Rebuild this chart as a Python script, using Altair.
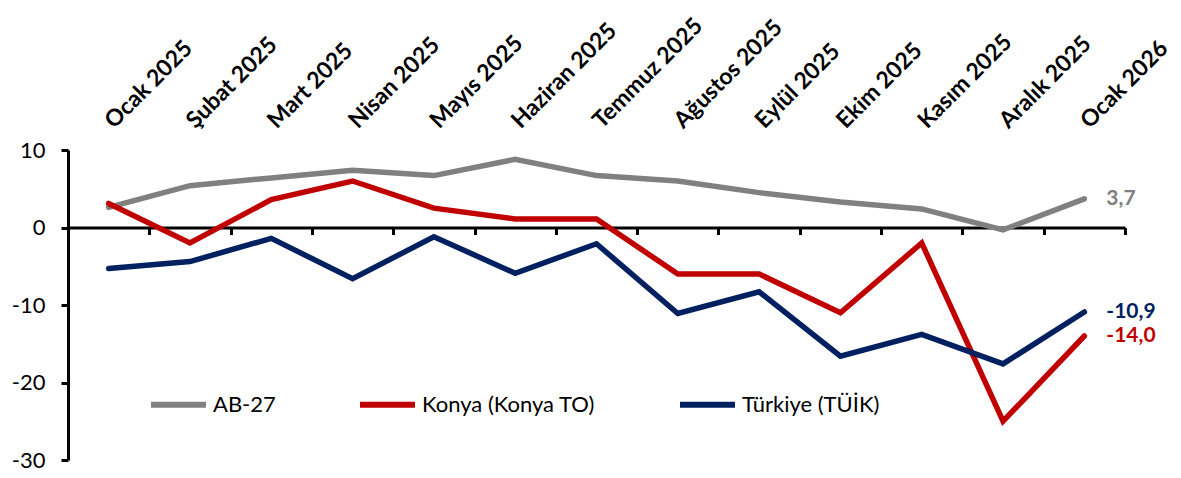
import altair as alt
import pandas as pd

months = ["Ocak 2025", "Şubat 2025", "Mart 2025", "Nisan 2025", "Mayıs 2025",
          "Haziran 2025", "Temmuz 2025", "Ağustos 2025", "Eylül 2025",
          "Ekim 2025", "Kasım 2025", "Aralık 2025", "Ocak 2026"]
ab27 = [2.6, 5.4, 6.4, 7.4, 6.7, 8.8, 6.7, 6.0, 4.5, 3.3, 2.4, -0.3, 3.7]
konya = [3.1, -2.0, 3.6, 6.0, 2.5, 1.1, 1.1, -6.0, -6.0, -11.0, -2.0, -25.0, -14.0]
turkiye = [-5.3, -4.4, -1.4, -6.6, -1.2, -5.9, -2.1, -11.1, -8.3, -16.6, -13.8, -17.6, -10.9]
series_names = ["AB-27", "Konya (Konya TO)", "Türkiye (TÜİK)"]
colors = ["#808080", "#C00000", "#002060"]
y_ticks = [-30, -20, -10, 0, 10]

rows = []
for name, vals in zip(series_names, [ab27, konya, turkiye]):
    for i, v in enumerate(vals):
        rows.append({"idx": i, "month": months[i], "series": name, "value": v,
                     "label": f"{v:.1f}".replace(".", ","),
                     "last": i == len(vals) - 1})
df = pd.DataFrame(rows)

n = len(months)
label_expr = "[" + ",".join(f"'{m}'" for m in months) + "][datum.value]"
xscale = alt.Scale(domain=[-0.5, n - 0.5], nice=False, zero=False)
yscale = alt.Scale(domain=[-30, 10], nice=False, zero=False)
cscale = alt.Scale(domain=series_names, range=colors)

PLOT_W, PLOT_H = 1057, 310
zero_offset = -(PLOT_H - PLOT_H * 10 / 40)

lines = alt.Chart(df).mark_line(strokeWidth=5.5, strokeCap="round").encode(
    x=alt.X("idx:Q", scale=xscale, axis=alt.Axis(
        orient="top", values=list(range(n)), labelExpr=label_expr,
        labelAngle=-45, labelAlign="left", labelBaseline="middle",
        labelFont="Lato", labelFontWeight="bold", labelFontSize=23,
        labelColor="black", labelPadding=26, labelOverlap=False,
        domain=False, ticks=False, grid=False, title=None)),
    y=alt.Y("value:Q", scale=yscale, axis=alt.Axis(
        values=y_ticks, labelExpr="'' + datum.value", labelFont="Lato",
        labelFontSize=22, labelColor="black", labelPadding=16,
        tickSize=7, tickWidth=3, tickColor="black",
        domainColor="black", domainWidth=3, grid=False, title=None)),
    color=alt.Color("series:N", scale=cscale, legend=alt.Legend(
        orient="none", legendX=80, legendY=224, direction="horizontal",
        title=None, symbolType="stroke", symbolSize=3025, symbolStrokeWidth=6,
        labelFont="Lato", labelFontSize=22, labelColor="black", labelLimit=0,
        columnPadding=72, labelOffset=4)),
)

texts = alt.Chart(df).transform_filter("datum.last").mark_text(
    align="left", baseline="middle", dx=22, font="Lato", fontWeight="bold",
    fontSize=21).encode(
    x=alt.X("idx:Q", scale=xscale, axis=alt.Axis(
        orient="bottom", offset=zero_offset,
        values=[i - 0.5 for i in range(n + 1)], labels=False,
        ticks=True, tickSize=7, tickWidth=3, tickColor="black",
        domainColor="black", domainWidth=3, grid=False, title=None)),
    y=alt.Y("value:Q", scale=yscale, axis=None),
    text="label:N",
    color=alt.Color("series:N", scale=cscale, legend=None),
)

chart = alt.layer(lines, texts).resolve_axis(
    x="independent", y="independent"
).properties(
    width=PLOT_W, height=PLOT_H,
    padding={"left": 60, "top": 142, "right": 48, "bottom": 16},
    autosize=alt.AutoSizeParams(type="none"),
    background="white",
).configure_view(stroke=None)

chart.save("out.html", embed_options={"renderer": "svg", "actions": False})
